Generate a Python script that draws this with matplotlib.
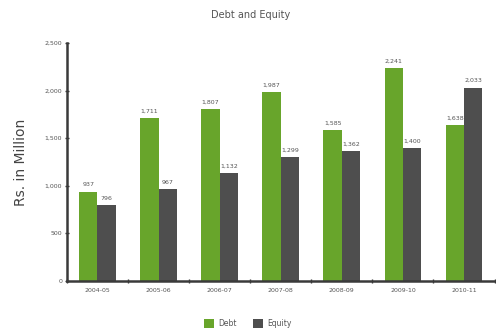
import numpy as np
import matplotlib.pyplot as plt

# Debt and equity by financial year (Rs. in Million)
years = ['2004-05', '2005-06', '2006-07', '2007-08', '2008-09', '2009-10', '2010-11']
debt = [937, 1711, 1807, 1987, 1585, 2241, 1638]
equity = [796, 967, 1132, 1299, 1362, 1400, 2033]
y_ticks = [0, 500, 1000, 1500, 2000, 2500]

green = '#68a52b'
dark = '#4e4e4e'
text_gray = '#555555'

fig = plt.figure(figsize=(4.96, 3.34), dpi=100)
ax = fig.add_axes([0.135, 0.159, 0.862, 0.712])

x = np.arange(len(years))
w = 0.30
b1 = ax.bar(x - w / 2, debt, w, color=green, label='Debt')
b2 = ax.bar(x + w / 2, equity, w, color=dark, label='Equity')

# value labels above each bar
for bars, vals in ((b1, debt), (b2, equity)):
    for rect, v in zip(bars, vals):
        ax.text(rect.get_x() + rect.get_width() / 2, v + 45, f'{v:,}',
                ha='center', va='bottom', fontsize=4.5, color=text_gray)

ax.set_xlim(-0.5, len(years) - 0.5)
ax.set_ylim(0, 2500)
ax.set_yticks(y_ticks)
ax.set_yticklabels([f'{t:,}' for t in y_ticks], fontsize=4.5, color=text_gray)

# group boundaries carry the tick marks, year labels sit centred under each pair
ax.set_xticks(np.arange(len(years) + 1) - 0.5)
ax.set_xticklabels([])
ax.set_xticks(x, minor=True)
ax.set_xticklabels(years, minor=True, fontsize=4.5, color=text_gray)
ax.tick_params(axis='x', which='minor', length=0, pad=5)
ax.tick_params(axis='x', which='major', length=3, width=1, color='#333333', direction='inout')
ax.tick_params(axis='y', length=3, width=1, color='#333333', direction='inout', pad=2)

for s in ('top', 'right'):
    ax.spines[s].set_visible(False)
for s in ('left', 'bottom'):
    ax.spines[s].set_linewidth(1.8)
    ax.spines[s].set_color('#3a3a3a')

ax.set_ylabel('Rs. in Million', fontsize=10, color='#444444', labelpad=12)
fig.text(0.505, 0.955, 'Debt and Equity', ha='center', va='center', fontsize=7, color=text_gray)

fig.legend(handles=[b1, b2], loc='center', bbox_to_anchor=(0.5, 0.032), ncol=2,
           frameon=False, fontsize=5.5, handlelength=1.3, handleheight=1.4,
           columnspacing=2.2, handletextpad=0.5, labelcolor=text_gray)

fig.savefig('out.png', dpi=100)
